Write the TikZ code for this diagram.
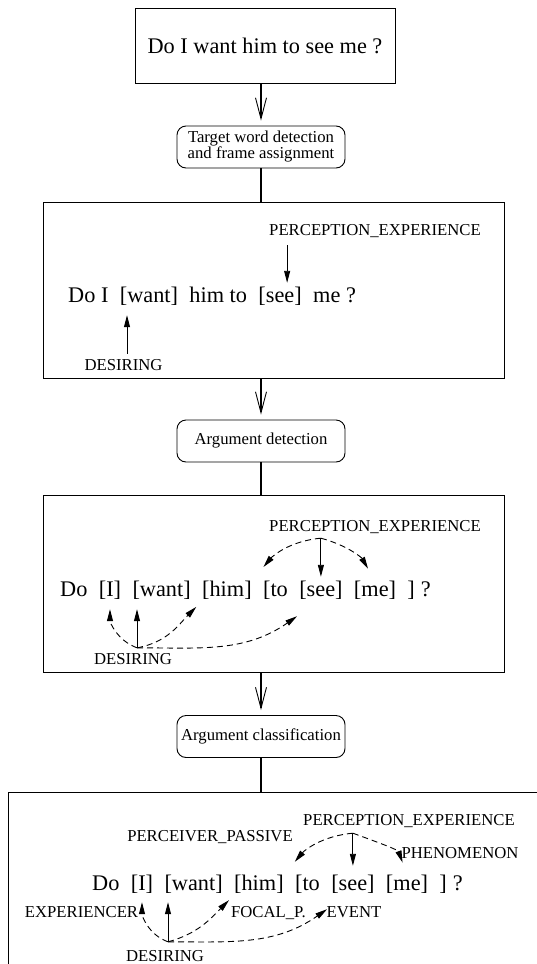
\documentclass[tikz,border=0pt]{standalone}
\usepackage{fontspec}
\setmainfont{Liberation Serif}
\usetikzlibrary{arrows.meta,positioning}
\newcommand{\sentfont}{\fontsize{22.3}{26}\selectfont}
\newcommand{\labfont}{\fontsize{16.7}{16}\selectfont}
\tikzset{
  sentbox/.style={
    draw, line width=0.9pt, font=\sentfont
  },
  stepbox/.style={
    draw, rounded corners=9pt, line width=0.9pt,
    font=\labfont, align=center, inner sep=1pt,
    minimum width=168pt, minimum height=42pt
  },
  panel/.style={
    draw, line width=0.9pt
  },
  word/.style={
    font=\sentfont, inner sep=0pt,
    text height=15pt, text depth=5pt
  },
  tag/.style={
    font=\labfont, inner xsep=0pt, inner ysep=5pt,
    text height=11pt, text depth=0pt, anchor=base
  },
  flow/.style={
    line width=2.8pt, shorten >=5pt,
    -{Straight Barb[length=21pt,width=11pt,line width=0.9pt 0]}
  },
  link/.style={
    line width=2.8pt
  },
  sol/.style={
    line width=0.9pt, -{Triangle[length=12pt,width=6pt]}
  },
  dsh/.style={
    sol, dash pattern=on 6pt off 4pt
  }
}

\begin{document}
\begin{tikzpicture}[x=1pt,y=1pt]
  \useasboundingbox (0,0) rectangle (537,-964);
  \clip (0,0) rectangle (537,-964);

  % pipeline
  \node[sentbox,minimum width=260pt,minimum height=75pt] (question) at (265,-45.5) {Do I want him to see me ?};
  \node[stepbox] (detect) at (261,-147) {Target word detection\\and frame assignment};
  \node[panel,minimum width=461pt,minimum height=176pt] (frames) at (273.5,-290) {};
  \node[stepbox] (argdet) at (261,-441) {Argument detection};
  \node[panel,minimum width=461pt,minimum height=177pt] (args) at (273.5,-583.5) {};
  \node[stepbox] (argcls) at (261,-736.5) {Argument classification};
  \node[panel,minimum width=540pt,minimum height=190pt] (roles) at (278.5,-887) {};

  \draw[flow] (detect.north |- question.south) -- (detect.north);
  \draw[link] (detect.south) -- (detect.south |- frames.north);
  \draw[flow] (argdet.north |- frames.south) -- (argdet.north);
  \draw[link] (argdet.south) -- (argdet.south |- args.north);
  \draw[flow] (argcls.north |- args.south) -- (argcls.north);
  \draw[link] (argcls.south) -- (argcls.south |- roles.north);

  % frames
  \node[word,anchor=base west] (do2) at (68,-302) {Do I};
  \node[word,right=11pt of do2] (want2) {[want]};
  \node[word,right=11pt of want2] (him2) {him to};
  \node[word,right=11pt of him2] (see2) {[see]};
  \node[word,right=11pt of see2] (me2) {me ?};
  \node[tag] (pe2) at (375,-235) {PERCEPTION\_EXPERIENCE};
  \node[tag] (des2) at (123.5,-370) {DESIRING};
  \draw[sol,shorten <=5pt,shorten >=4pt] ([xshift=7pt]see2.north |- pe2.south) -- ([xshift=7pt]see2.north);
  \draw[sol,shorten >=8pt] ([xshift=3.5pt]des2.north) -- ([xshift=3.5pt]des2.north |- want2.south);

  % arguments
  \node[word,anchor=base west] (do3) at (60,-596) {Do};
  \node[word,right=11pt of do3] (i3) {[I]};
  \node[word,right=11pt of i3] (want3) {[want]};
  \node[word,right=11pt of want3] (him3) {[him]};
  \node[word,right=11pt of him3] (to3) {[to};
  \node[word,right=11pt of to3] (see3) {[see]};
  \node[word,right=11pt of see3] (me3) {[me]};
  \node[word,right=11pt of me3] (cl3) {]};
  \node[word,right=5.5pt of cl3] (q3) {?};
  \node[tag] (pe3) at (375,-531) {PERCEPTION\_EXPERIENCE};
  \node[tag] (des3) at (133,-664) {DESIRING};
  \coordinate (pe3hub) at ([yshift=-2pt]see3.north |- pe3.south);
  \coordinate (des3hub) at ([xshift=4pt]des3.north);
  \draw[sol,shorten >=4pt] (pe3hub) -- (see3.north);
  \draw[dsh,shorten >=18pt] (pe3hub) to[out=185,in=50] (him3.north east);
  \draw[dsh,shorten >=14pt] (pe3hub) to[out=-15,in=120] (me3.north);
  \draw[sol,shorten >=8pt] (des3hub) -- (des3hub |- want3.south);
  \draw[dsh,shorten >=8pt] (des3hub) to[out=160,in=-90] (i3.south);
  \draw[dsh,shorten >=8pt] (des3hub) to[out=10,in=225] (him3.south west);
  \draw[dsh] (des3hub) to[out=0,in=215] ([shift={(-2pt,-15pt)}]see3.south west);

  % roles
  \node[word,anchor=base west] (do4) at (92,-890) {Do};
  \node[word,right=11pt of do4] (i4) {[I]};
  \node[word,right=11pt of i4] (want4) {[want]};
  \node[word,right=11pt of want4] (him4) {[him]};
  \node[word,right=11pt of him4] (to4) {[to};
  \node[word,right=11pt of to4] (see4) {[see]};
  \node[word,right=11pt of see4] (me4) {[me]};
  \node[word,right=11pt of me4] (cl4) {]};
  \node[word,right=5.5pt of cl4] (q4) {?};
  \node[tag] (pe4) at (409,-825) {PERCEPTION\_EXPERIENCE};
  \node[tag] (pp4) at (210,-841) {PERCEIVER\_PASSIVE};
  \node[tag] (ph4) at (460,-858) {PHENOMENON};
  \node[tag] (ex4) at (81.5,-917) {EXPERIENCER};
  \node[tag] (fp4) at (268.5,-917) {FOCAL\_P.};
  \node[tag] (ev4) at (354,-917) {EVENT};
  \node[tag] (des4) at (165,-961) {DESIRING};
  \coordinate (pe4hub) at ([yshift=-3pt]see4.north |- pe4.south);
  \coordinate (des4hub) at ([shift={(3pt,3pt)}]des4.north);
  \draw[sol,shorten >=9pt] (pe4hub) -- (see4.north);
  \draw[dsh,shorten >=17pt] (pe4hub) to[out=185,in=50] (him4.north east);
  \draw[dsh,shorten >=13pt] (pe4hub) to[out=-20,in=110] (me4.north);
  \draw[sol,shorten >=7pt] (des4hub) -- (des4hub |- want4.south);
  \draw[dsh,shorten >=7pt] (des4hub) to[out=160,in=-90] (i4.south);
  \draw[dsh,shorten >=7pt] (des4hub) to[out=15,in=225] (him4.south west);
  \draw[dsh] (des4hub) to[out=0,in=215] ([shift={(-4pt,-14pt)}]see4.south west);
\end{tikzpicture}
\end{document}
